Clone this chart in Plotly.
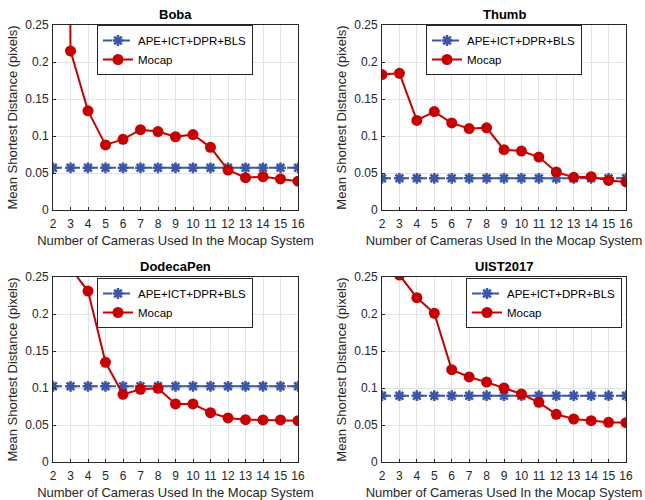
import plotly.graph_objects as go

cameras = list(range(2, 17))
panel_titles = ["Boba", "Thumb", "DodecaPen", "UIST2017"]
series_names = ["APE+ICT+DPR+BLS", "Mocap"]

boba_ape = [0.057] * 15
boba_mocap = [4.0, 0.215, 0.134, 0.088, 0.0955, 0.1085, 0.106, 0.099, 0.102, 0.0847,
              0.054, 0.0437, 0.045, 0.042, 0.039]

thumb_ape = [0.0428] * 15
thumb_mocap = [0.183, 0.1847, 0.121, 0.133, 0.1176, 0.110, 0.111, 0.0815, 0.0797, 0.0716,
               0.0514, 0.0441, 0.045, 0.040, 0.038]

dodeca_ape = [0.1023] * 15
dodeca_mocap = [0.35, 0.262, 0.231, 0.1347, 0.0914, 0.0982, 0.0995, 0.0784, 0.0784, 0.0667,
                0.0595, 0.0572, 0.0568, 0.0568, 0.0559]

uist_ape = [0.0896] * 15
uist_mocap = [0.32, 0.2527, 0.222, 0.201, 0.1248, 0.1149, 0.108, 0.100, 0.0919, 0.0806,
              0.0644, 0.0581, 0.0559, 0.0536, 0.0532]

y_ticks = [0, 0.05, 0.1, 0.15, 0.2, 0.25]
y_tick_labels = ["0", "0.05", "0.1", "0.15", "0.2", "0.25"]

ape_series = [boba_ape, thumb_ape, dodeca_ape, uist_ape]
mocap_series = [boba_mocap, thumb_mocap, dodeca_mocap, uist_mocap]

W, H = 645, 500
BLUE = "#3b56a8"
RED = "#c80000"
AXC = "#262626"
FONT = "Liberation Sans, Arial, sans-serif"

# pixel boxes of each plot area: (left, right, top, bottom)
boxes = [(53, 298, 25, 210), (382, 626, 25, 210), (53, 298, 277, 462), (382, 626, 277, 462)]
legend_pos = [(97, 25), (426, 25), (97, 278), (466, 278)]

fig = go.Figure()
layout = dict(
    width=W, height=H,
    margin=dict(l=0, r=0, t=0, b=0, autoexpand=False),
    paper_bgcolor="white", plot_bgcolor="white",
    font=dict(family=FONT, size=12, color=AXC),
    annotations=[],
)

for i in range(4):
    k = "" if i == 0 else str(i + 1)
    xa, ya = "x" + k, "y" + k
    leg = "legend" + k
    fig.add_trace(go.Scatter(
        x=cameras, y=ape_series[i], name=series_names[0], mode="lines+markers",
        xaxis=xa, yaxis=ya, legend=leg,
        line=dict(color=BLUE, width=2, dash="dash"),
        marker=dict(symbol="asterisk-open", size=9, line=dict(color=BLUE, width=2.5)),
        cliponaxis=True,
    ))
    fig.add_trace(go.Scatter(
        x=cameras, y=mocap_series[i], name=series_names[1], mode="lines+markers",
        xaxis=xa, yaxis=ya, legend=leg,
        line=dict(color=RED, width=2),
        marker=dict(symbol="circle", size=11, color=RED, line=dict(width=0)),
        cliponaxis=True,
    ))
    l, r, t, b = boxes[i]
    axis_common = dict(
        showline=True, mirror=True, linecolor=AXC, linewidth=1,
        ticks="inside", ticklen=3, tickcolor=AXC,
        showgrid=True, gridcolor="#e3e3e3", gridwidth=1,
        zeroline=False, tickfont=dict(size=12, color=AXC),
        fixedrange=True, automargin=False,
    )
    layout["xaxis" + k] = dict(
        axis_common, domain=[l / W, r / W], range=[2, 16], anchor=ya,
        tickmode="array", tickvals=cameras, ticktext=[str(c) for c in cameras],
        ticklabelstandoff=3,
        title=dict(text="Number of Cameras Used In the Mocap System",
                   font=dict(size=13, color=AXC), standoff=5),
    )
    layout["yaxis" + k] = dict(
        axis_common, domain=[1 - b / H, 1 - t / H], range=[0, 0.25], anchor=xa,
        tickmode="array", tickvals=y_ticks, ticktext=y_tick_labels,
        ticklabelstandoff=1,
        title=dict(text="Mean Shortest Distance (pixels)",
                   font=dict(size=13, color=AXC), standoff=4),
    )
    layout["annotations"].append(dict(
        text="<b>" + panel_titles[i] + "</b>", xref="paper", yref="paper",
        x=(l + r) / 2 / W, y=1 - (t - 1) / H, xanchor="center", yanchor="bottom",
        showarrow=False, font=dict(size=13, color="black", family=FONT),
    ))
    lx, ly = legend_pos[i]
    layout[leg] = dict(
        x=lx / W, y=1 - ly / H, xanchor="left", yanchor="top",
        bgcolor="white", bordercolor=AXC, borderwidth=1,
        font=dict(size=11.5, color="black", family=FONT),
        itemwidth=30, tracegroupgap=0,
    )

fig.update_layout(**layout)
fig.write_html("out.html", config={"displayModeBar": False},
               post_script="document.body.style.margin='0';")
